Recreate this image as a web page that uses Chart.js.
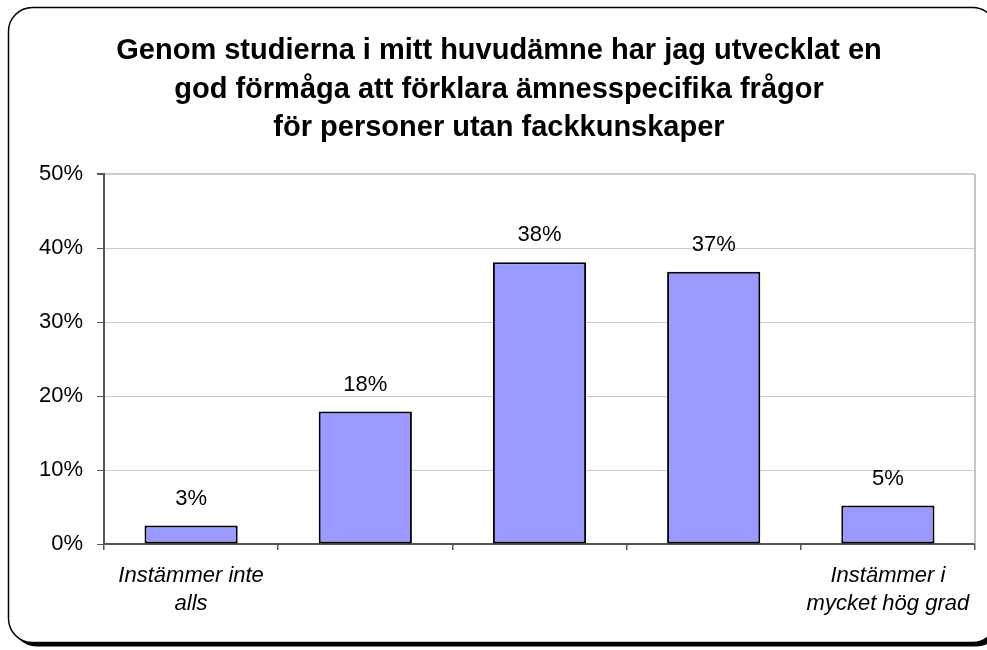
<!DOCTYPE html>
<html>
<head>
<meta charset="utf-8">
<script src="https://cdn.jsdelivr.net/npm/chart.js@4.4.1/dist/chart.umd.min.js"></script>
<style>
    html, body { margin: 0; padding: 0; background: #ffffff; }
    #wrap { width: 987px; height: 650px; }
</style>
</head>
<body>
<div id="wrap"><canvas id="chartFormaga" width="987" height="650"></canvas></div>
<script>
const kategorier = [
    ['Instämmer inte', 'alls'],
    '',
    '',
    '',
    ['Instämmer i', 'mycket hög grad']
]
const andelar = [2.5, 17.9, 38.1, 36.8, 5.2]
const yTicks = [0, 10, 20, 30, 40, 50]
const titel = [
    'Genom studierna i mitt huvudämne har jag utvecklat en',
    'god förmåga att förklara ämnesspecifika frågor',
    'för personer utan fackkunskaper'
]

const fontFamilj = '"Liberation Sans", Arial, sans-serif'

// ram med skugga bakom hela diagrammet
const ramPlugin = {
    id : 'ram',
    beforeDraw(chart) {
        const ctx = chart.ctx
        ctx.save()
        ctx.fillStyle = '#000'
        ctx.beginPath()
        ctx.roundRect(12.5, 11.5, 988, 635, 24)
        ctx.fill()
        ctx.fillStyle = '#fff'
        ctx.beginPath()
        ctx.roundRect(8.5, 7.5, 988, 635, 24)
        ctx.fill()
        ctx.lineWidth = 1.5
        ctx.strokeStyle = '#000'
        ctx.stroke()
        ctx.restore()
    },
    beforeDatasetsDraw(chart) {
        // grå kant till höger om ritytan
        const { ctx, chartArea } = chart
        ctx.save()
        ctx.strokeStyle = '#b0b0b0'
        ctx.lineWidth = 1.5
        ctx.beginPath()
        ctx.moveTo(chartArea.right, chartArea.top)
        ctx.lineTo(chartArea.right, chartArea.bottom)
        ctx.stroke()
        ctx.restore()
    }
}

// procentetiketter ovanför staplarna
const etikettPlugin = {
    id : 'etiketter',
    afterDatasetsDraw(chart) {
        const ctx = chart.ctx
        const meta = chart.getDatasetMeta(0)
        ctx.save()
        ctx.font = '22px ' + fontFamilj
        ctx.fillStyle = '#000'
        ctx.textAlign = 'center'
        ctx.textBaseline = 'middle'
        meta.data.forEach((bar, i) => {
            ctx.fillText(Math.round(andelar[i]) + '%', bar.x, bar.y - 27)
        })
        ctx.restore()
    }
}

const context = document.getElementById('chartFormaga').getContext('2d')

const chartFormaga = new Chart(context, {
    type : 'bar',
    data : {
        labels : kategorier,
        datasets : [
            {
                label : 'Andel',
                data : andelar,
                backgroundColor : '#9999ff',
                borderColor : '#000000',
                borderWidth : 2,
                borderSkipped : false,
                categoryPercentage : 1,
                barPercentage : 0.535
            }
        ]
    },
    options : {
        responsive : false,
        animation : false,
        devicePixelRatio : 1,
        layout : {
            padding : { left : 23, right : 12, top : 0, bottom : 0 }
        },
        plugins : {
            legend : { display : false },
            tooltip : { enabled : false },
            title : {
                display : true,
                text : titel,
                color : '#000',
                font : { family : fontFamilj, size : 29, weight : 'bold', lineHeight : 1.324 },
                padding : { top : 32, bottom : 27 }
            }
        },
        scales : {
            x : {
                offset : true,
                grid : {
                    offset : true,
                    drawOnChartArea : false,
                    drawTicks : true,
                    tickLength : 6,
                    tickColor : '#555',
                    lineWidth : 1.5
                },
                border : { display : true, color : '#555', width : 2 },
                ticks : {
                    color : '#000',
                    maxRotation : 0,
                    autoSkip : false,
                    padding : 12,
                    font : { family : fontFamilj, size : 22, style : 'italic', lineHeight : 1.27 }
                },
                afterFit : (scale) => { scale.height = 106 }
            },
            y : {
                min : 0,
                max : 50,
                afterBuildTicks : (scale) => { scale.ticks = yTicks.map(v => ({ value : v })) },
                grid : {
                    color : '#cccccc',
                    lineWidth : (c) => c.tick && c.tick.value === 50 ? 2 : 1,
                    drawTicks : true,
                    tickLength : 7,
                    tickColor : '#555'
                },
                border : { display : true, color : '#555', width : 2 },
                ticks : {
                    color : '#000',
                    padding : 14,
                    font : { family : fontFamilj, size : 22 },
                    callback : (v) => v + '%'
                },
                afterFit : (scale) => { scale.width = 81 }
            }
        }
    },
    plugins : [ramPlugin, etikettPlugin]
})
</script>
</body>
</html>
